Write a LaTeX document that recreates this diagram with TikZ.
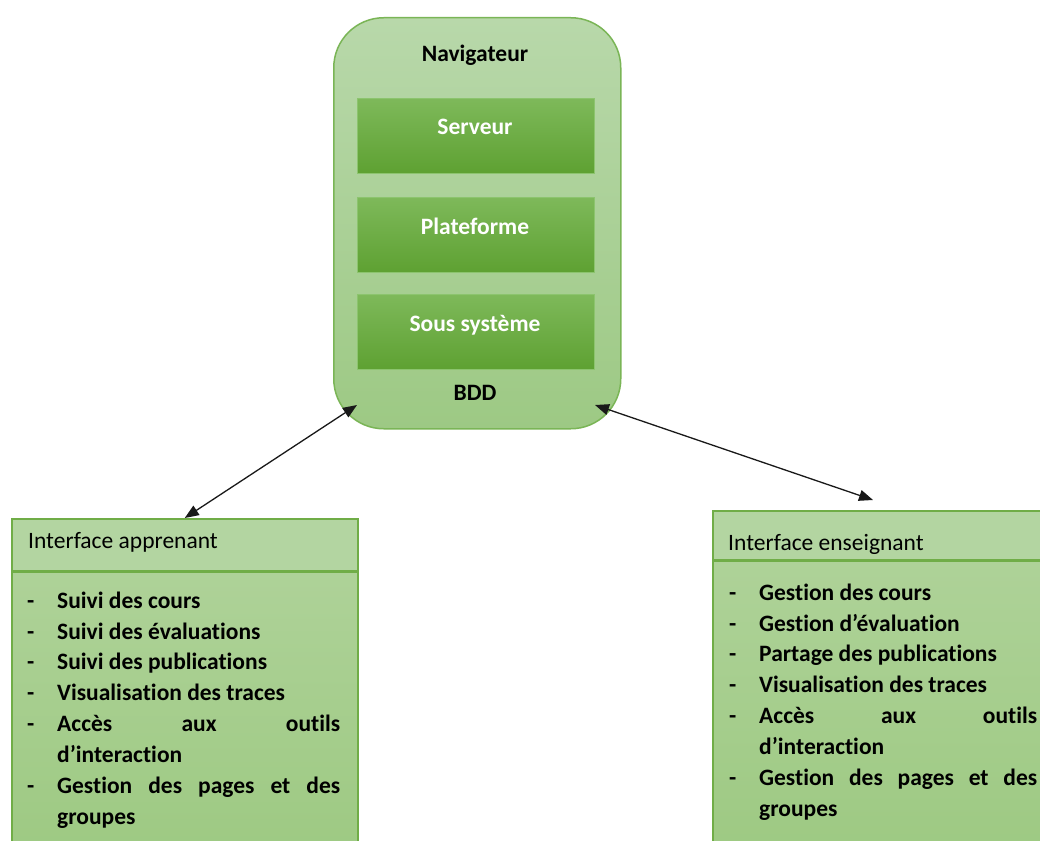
\documentclass[tikz,border=0pt]{standalone}
\usepackage{fontspec}
\setmainfont{Carlito}[Ligatures=NoCommon]
\usetikzlibrary{arrows.meta}
\definecolor{outerTop}{RGB}{184,216,170}
\definecolor{outerBot}{RGB}{157,201,132}
\definecolor{outerEdge}{RGB}{122,181,86}
\definecolor{innerTop}{RGB}{126,185,90}
\definecolor{innerBot}{RGB}{94,161,50}
\definecolor{innerEdge}{RGB}{140,196,110}
\definecolor{edgeG}{RGB}{112,173,71}
\definecolor{hdrG}{RGB}{179,213,161}
\definecolor{bodyTop}{RGB}{174,210,152}
\definecolor{bodyBot}{RGB}{157,201,130}
\definecolor{arrowC}{RGB}{25,25,25}
\newcommand\myfs{\fontsize{23.5}{30.9}\selectfont}
\newcommand\itm[1]{\par\hangindent=30pt\hangafter=1\noindent\makebox[30pt][l]{-}#1\par}
\begin{document}
\begin{tikzpicture}[x=1pt,y=-1pt,
  outerbox/.style={draw=outerEdge, line width=1.5pt, rounded corners=50pt,
    top color=outerTop, bottom color=outerBot, inner sep=0pt},
  innerbox/.style={draw=innerEdge, line width=0.6pt, top color=innerTop,
    bottom color=innerBot, inner sep=0pt, minimum width=237pt, minimum height=75pt,
    anchor=north west},
  lbl/.style={font=\myfs\bfseries, anchor=base, inner sep=0pt},
  hdrbox/.style={draw=edgeG, line width=1.5pt, fill=hdrG, inner sep=0pt, anchor=north west},
  bodybox/.style={draw=edgeG, line width=1.5pt, top color=bodyTop, bottom color=bodyBot,
    inner sep=0pt, anchor=north west},
  sepline/.style={draw=edgeG, line width=3pt},
  hdrtxt/.style={font=\myfs, anchor=base west, inner sep=0pt},
  listtxt/.style={font=\myfs\bfseries, anchor=north west, inner sep=0pt, align=justify},
  biarrow/.style={draw=arrowC, line width=1.3pt,
    {Triangle[length=14pt,width=11pt]}-{Triangle[length=14pt,width=11pt]}}
]
\useasboundingbox (0,0) rectangle (1040,840);
\fill[white] (0,0) rectangle (1040,840);

% central block
\node[outerbox, minimum width=287pt, minimum height=411pt, anchor=north west] (nav) at (333,17) {};
\node[lbl] (navt) at (475,62) {Navigateur};
\node[innerbox] (srv) at (357,98) {};
\node[innerbox] (plt) at (357,197) {};
\node[innerbox] (sss) at (357,294) {};
\node[lbl, white] (srvt) at (475,134) {Serveur};
\node[lbl, white] (pltt) at (475,234) {Plateforme};
\node[lbl, white] (ssst) at (475,331) {Sous système};
\node[lbl] (bdd) at (475,400) {BDD};

% left interface
\node[bodybox, minimum width=346pt, minimum height=290pt] (appb) at (11,570) {};
\node[hdrbox, minimum width=346pt, minimum height=52pt] (apph) at (11,518) {};
\draw[sepline] (apph.south west) -- (apph.south east);
\node[hdrtxt] (appt) at (28,548) {Interface apprenant};
\node[listtxt, text width=313pt] (appl) at (27,577) {%
\tolerance=10000\hyphenpenalty=10000\parindent=0pt\parskip=0pt
\itm{\rule{0pt}{22pt}Suivi des cours}
\itm{Suivi des évaluations}
\itm{Suivi des publications}
\itm{Visualisation des traces}
\itm{Accès aux outils\linebreak d’interaction}
\itm{Gestion des pages et des\linebreak groupes}};

% right interface
\node[bodybox, minimum width=346pt, minimum height=300pt] (ensb) at (712,559) {};
\node[hdrbox, minimum width=346pt, minimum height=49pt] (ensh) at (712,510) {};
\draw[sepline] (ensh.south west) -- (ensh.south east);
\node[hdrtxt] (enst) at (728,550) {Interface enseignant};
\node[listtxt, text width=308pt] (ensl) at (729,569) {%
\tolerance=10000\hyphenpenalty=10000\parindent=0pt\parskip=0pt
\itm{\rule{0pt}{22pt}Gestion des cours}
\itm{Gestion d’évaluation}
\itm{Partage des publications}
\itm{Visualisation des traces}
\itm{Accès aux outils\linebreak d’interaction}
\itm{Gestion des pages et des\linebreak groupes}};

% connectors
\coordinate (navL) at (357,405);
\coordinate (navR) at (595,405);
\coordinate (ensT) at (873,500);
\draw[biarrow] (navL) -- (apph.north);
\draw[biarrow] (navR) -- (ensT);
\end{tikzpicture}
\end{document}
